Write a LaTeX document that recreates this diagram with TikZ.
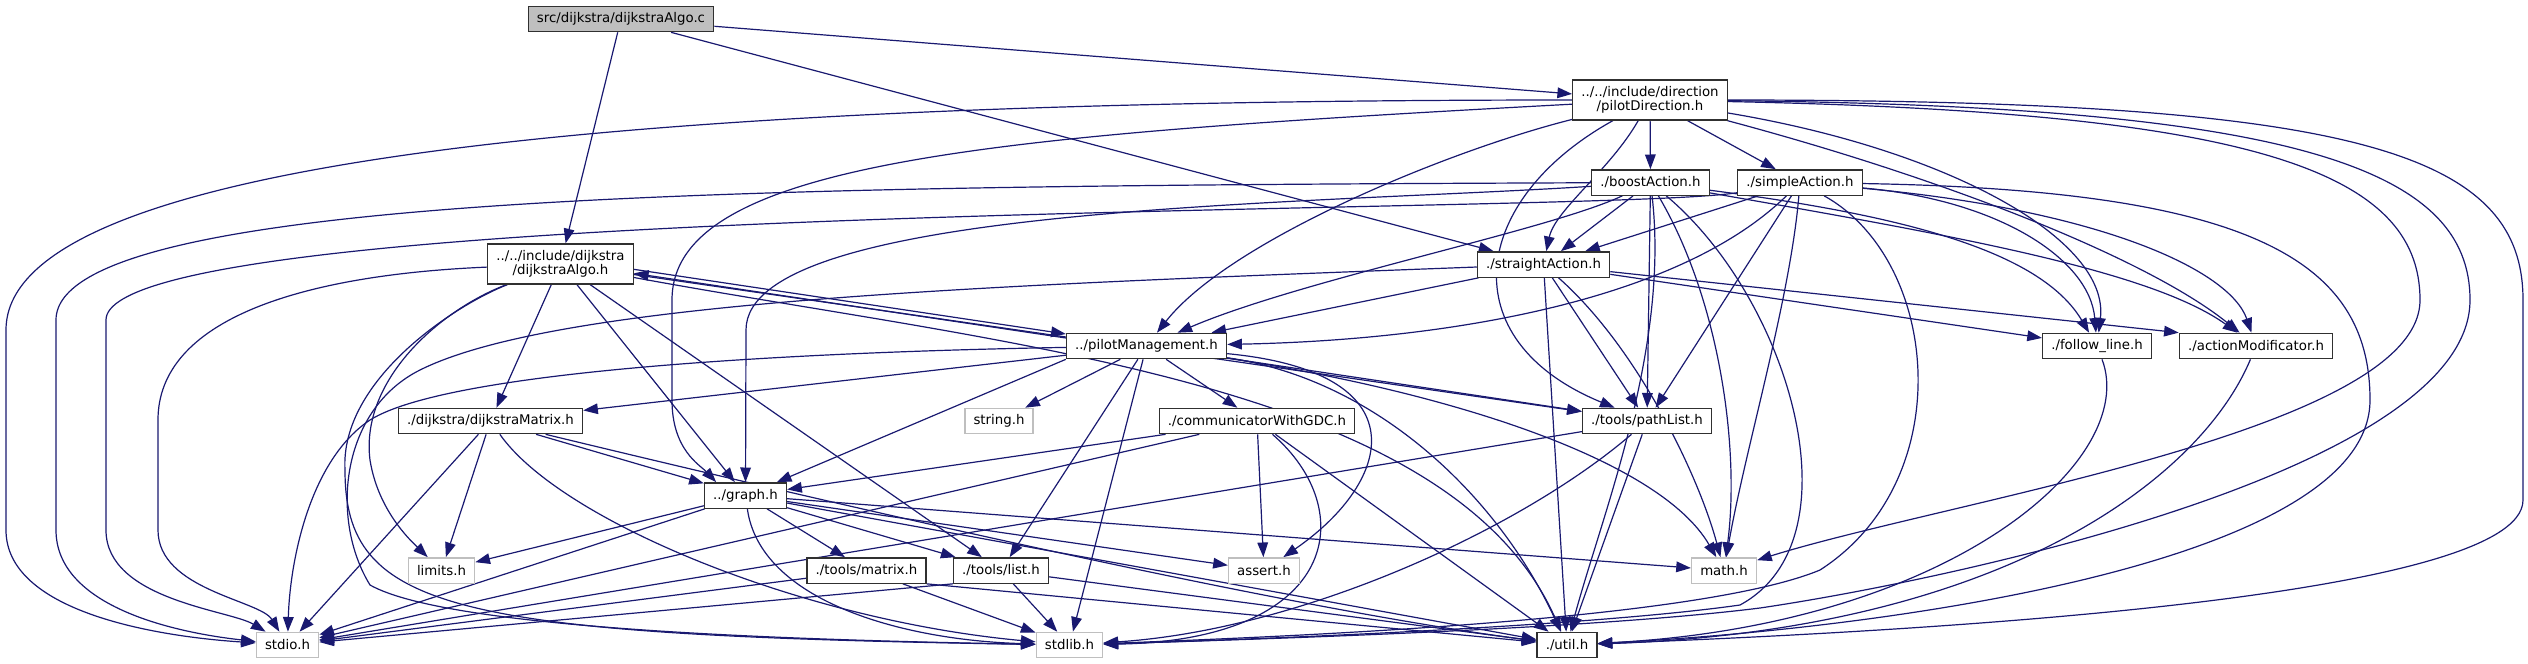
\documentclass[tikz,border=0pt]{standalone}
\usepackage{fontspec}
\setmainfont{DejaVu Sans}
\usepackage{tikz}
\usetikzlibrary{arrows.meta, backgrounds}
\definecolor{dEdge}{HTML}{191970}
\definecolor{dGray}{HTML}{BFBFBF}
\definecolor{dLine}{HTML}{303030}
\tikzset{
  hfile/.style={draw=dLine, line width=1pt, fill=white, minimum height=19pt,
                inner xsep=6.5pt, inner ysep=1pt, font=\fontsize{10}{10.75}\selectfont},
  hsrc/.style={hfile, fill=dGray},
  hsys/.style={hfile, draw=dGray},
  hpair/.style={hfile, align=center, minimum height=30pt},
  hdep/.style={dEdge, line width=0.9pt, -{Triangle[length=11pt,width=8pt]}},
}

\begin{document}
\begin{tikzpicture}[x=0.75pt, y=-0.75pt]
    \useasboundingbox (0,0) rectangle (2528,664);
    % files
    \node[hsrc]  (src)      at (621,19)     {src/dijkstra/dijkstraAlgo.c};
    \node[hpair] (pdir)     at (1650,100)   {../../include/direction\\/pilotDirection.h};
    \node[hpair] (dalgo)    at (560.5,264)  {../../include/dijkstra\\/dijkstraAlgo.h};
    \node[hfile] (boost)    at (1650.5,182.5) {./boostAction.h};
    \node[hfile] (simple)   at (1800,182.5) {./simpleAction.h};
    \node[hfile] (straight) at (1543.5,264.5) {./straightAction.h};
    \node[hfile] (pman)     at (1146.5,346) {../pilotManagement.h};
    \node[hfile] (follow)   at (2097,346)   {./follow\_line.h};
    \node[hfile] (amod)     at (2256,346)   {./actionModificator.h};
    \node[hfile] (dmat)     at (490.5,421)  {./dijkstra/dijkstraMatrix.h};
    \node[hsys]  (strh)     at (999,421)    {string.h};
    \node[hfile] (comm)     at (1257,421)   {./communicatorWithGDC.h};
    \node[hfile] (plist)    at (1647,421)   {./tools/pathList.h};
    \node[hfile] (graph)    at (745.5,495.5) {../graph.h};
    \node[hsys]  (limits)   at (441.5,570.5) {limits.h};
    \node[hfile] (tmat)     at (866.5,570.5) {./tools/matrix.h};
    \node[hfile] (tlist)    at (1001,570.5) {./tools/list.h};
    \node[hsys]  (assert)   at (1264,570.5) {assert.h};
    \node[hsys]  (math)     at (1724,570.5) {math.h};
    \node[hsys]  (stdio)    at (287.5,645)  {stdio.h};
    \node[hsys]  (stdlib)   at (1069.5,645) {stdlib.h};
    \node[hfile] (util)     at (1567,645)   {./util.h};

    \begin{pgfonlayer}{background}
    % dijkstraAlgo.c
    \draw[hdep] (src) -- (dalgo);
    \draw[hdep] (src) -- (pdir);
    \draw[hdep] (src) -- (straight);
    % pilotDirection.h
    \draw[hdep] (pdir) -- (boost);
    \draw[hdep] (pdir) -- (simple);
    \draw[hdep] (pdir) .. controls (1610,170) and (1555,210) .. (straight);
    \draw[hdep] (pdir) .. controls (1450,150) and (1230,240) .. (pman);
    \draw[hdep] (pdir) .. controls (1470,200) and (1450,340) .. (plist);
    \draw[hdep] (pdir) .. controls (1000,135) and (672,160) .. (672,300) -- (672,400)
                       .. controls (672,450) and (700,465) .. ([xshift=-22pt]graph.north);
    \draw[hdep] (pdir) .. controls (700,100) and (6,150) .. (6,330) -- (6,530)
                       .. controls (6,610) and (150,636) .. (stdio);
    \draw[hdep] (pdir) .. controls (1950,150) and (2110,240) .. (follow);
    \draw[hdep] (pdir) .. controls (1950,180) and (2150,260) .. (amod);
    \draw[hdep] (pdir) .. controls (2250,112) and (2420,170) .. (2420,300)
                       .. controls (2420,430) and (1950,500) .. (math);
    \draw[hdep] (pdir) .. controls (2300,106) and (2470,170) .. (2470,300)
                       .. controls (2470,470) and (1950,580) .. (1760,608)
                       .. controls (1600,628) and (1300,638) .. (stdlib);
    \draw[hdep] (pdir) .. controls (2350,100) and (2523,150) .. (2523,300) -- (2523,500)
                       .. controls (2523,600) and (1900,632) .. (util);
    % boostAction.h
    \draw[hdep] (boost) -- (straight);
    \draw[hdep] (boost) .. controls (1550,230) and (1300,280) .. (pman);
    \draw[hdep] (boost) -- (plist);
    \draw[hdep] (boost) .. controls (800,186) and (56,190) .. (56,320) -- (56,530)
                        .. controls (56,605) and (170,632) .. (stdio);
    \draw[hdep] (boost) .. controls (1300,205) and (746,205) .. (746,330) -- (graph);
    \draw[hdep] (boost) .. controls (1900,215) and (2040,250) .. (follow);
    \draw[hdep] (boost) .. controls (1950,235) and (2150,270) .. (amod);
    \draw[hdep] (boost) .. controls (1720,300) and (1740,450) .. (math);
    \draw[hdep] (boost) .. controls (1790,300) and (1860,540) .. (1740,605)
                        .. controls (1600,625) and (1300,638) .. (stdlib);
    \draw[hdep] (boost) .. controls (1670,350) and (1600,520) .. (util);
    % simpleAction.h
    \draw[hdep] (simple) -- (straight);
    \draw[hdep] (simple) .. controls (1680,300) and (1450,340) .. (pman);
    \draw[hdep] (simple) -- (plist);
    \draw[hdep] (simple) .. controls (1600,215) and (106,200) .. (106,320) -- (106,530)
                         .. controls (106,600) and (230,610) .. (stdio);
    \draw[hdep] (simple) .. controls (2000,200) and (2090,260) .. (follow);
    \draw[hdep] (simple) .. controls (2100,210) and (2230,270) .. (amod);
    \draw[hdep] (simple) .. controls (1790,300) and (1745,450) .. (math);
    \draw[hdep] (simple) .. controls (1940,260) and (1960,480) .. (1820,570)
                         .. controls (1700,620) and (1300,636) .. (stdlib);
    \draw[hdep] (simple) .. controls (2250,190) and (2370,260) .. (2370,400)
                         .. controls (2370,560) and (1900,628) .. (util);
    % straightAction.h
    \draw[hdep] (straight) -- (pman);
    \draw[hdep] (straight) -- (plist);
    \draw[hdep] (straight) -- (follow);
    \draw[hdep] (straight) -- (amod.north west);
    \draw[hdep] (straight) .. controls (1640,350) and (1700,480) .. (math);
    \draw[hdep] (straight) -- (util);
    \draw[hdep] (straight) .. controls (1000,285) and (560,300) .. (420,370)
                           .. controls (340,410) and (330,520) .. (370,585)
                           .. controls (450,630) and (800,640) .. (stdlib);
    % dijkstraAlgo.h
    \draw[hdep] (dalgo) -- (dmat);
    \draw[hdep] (dalgo) -- (graph);
    \draw[hdep] ([yshift=-4pt]dalgo.east) -- ([yshift=-1pt]pman.north west);
    \draw[hdep] (dalgo) -- (plist);
    \draw[hdep] (dalgo) -- (tlist);
    \draw[hdep] (dalgo) .. controls (440,310) and (360,380) .. (370,460)
                        .. controls (378,510) and (410,540) .. (limits);
    \draw[hdep] (dalgo) .. controls (300,275) and (158,320) .. (158,420) -- (158,530)
                        .. controls (158,590) and (260,600) .. (stdio);
    \draw[hdep] (dalgo) .. controls (455,305) and (340,380) .. (345,470)
                        .. controls (345,610) and (450,635) .. (stdlib);
    \draw[hdep] (dalgo) .. controls (1000,345) and (1450,380) .. (util);
    % pilotManagement.h
    \draw[hdep] ([yshift=-4pt]pman.north west) -- ([yshift=-7pt]dalgo.east);
    \draw[hdep] (pman) -- (dmat);
    \draw[hdep] (pman.south west) -- (graph);
    \draw[hdep] (pman) -- (strh);
    \draw[hdep] (pman) -- (comm);
    \draw[hdep] (pman) -- (plist);
    \draw[hdep] (pman) -- (tlist);
    \draw[hdep] (pman) -- (stdlib);
    \draw[hdep] (pman) .. controls (1420,372) and (1395,480) .. (assert);
    \draw[hdep] (pman) .. controls (1450,392) and (1660,460) .. (math);
    \draw[hdep] (pman) .. controls (1380,380) and (1500,500) .. (util);
    \draw[hdep] (pman) .. controls (800,352) and (450,370) .. (370,420)
                       .. controls (310,460) and (290,560) .. (stdio);
    % dijkstraMatrix.h
    \draw[hdep] (dmat) -- (graph);
    \draw[hdep] (dmat) -- (limits);
    \draw[hdep] (dmat) -- (stdio);
    \draw[hdep] (dmat) .. controls (560,520) and (800,620) .. (stdlib);
    \draw[hdep] (dmat) .. controls (900,520) and (1300,610) .. (util);
    % communicatorWithGDC.h
    \draw[hdep] (comm) -- (graph);
    \draw[hdep] (comm) -- (assert);
    \draw[hdep] (comm) -- (stdio);
    \draw[hdep] (comm) .. controls (1360,510) and (1340,640) .. (stdlib);
    \draw[hdep] (comm) -- (util);
    % pathList.h
    \draw[hdep] (plist) -- (stdio);
    \draw[hdep] (plist) .. controls (1520,530) and (1300,630) .. (stdlib);
    \draw[hdep] (plist) -- (util);
    % graph.h
    \draw[hdep] (graph) -- (limits);
    \draw[hdep] (graph) -- (tmat);
    \draw[hdep] (graph) -- (tlist);
    \draw[hdep] (graph) -- (stdio);
    \draw[hdep] (graph) .. controls (760,600) and (900,640) .. (stdlib);
    \draw[hdep] (graph) -- (assert);
    \draw[hdep] (graph) -- (math);
    \draw[hdep] (graph) -- (util);
    % tools
    \draw[hdep] (tmat) -- (stdio);
    \draw[hdep] (tmat) -- (stdlib);
    \draw[hdep] (tmat.south east) -- (util);
    \draw[hdep] (tlist.south west) -- (stdio);
    \draw[hdep] (tlist) -- (stdlib);
    \draw[hdep] (tlist) -- (util);
    % actions
    \draw[hdep] (follow) .. controls (2140,460) and (1950,625) .. (util);
    \draw[hdep] (amod) .. controls (2200,480) and (2000,630) .. (util);
    \end{pgfonlayer}
\end{tikzpicture}
\end{document}
